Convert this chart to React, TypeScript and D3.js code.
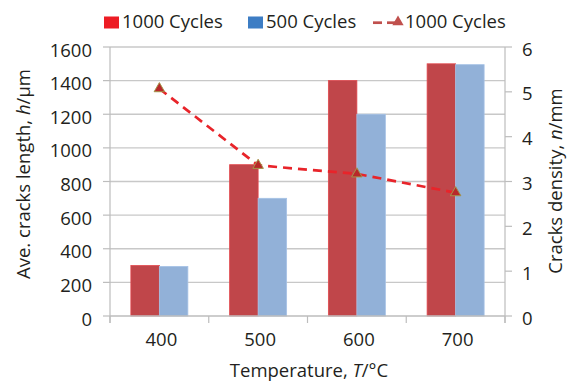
import React from "react";
import * as d3 from "d3";

const categories = ["400", "500", "600", "700"];
const cycles1000 = [300, 900, 1400, 1500];
const cycles500 = [295, 700, 1200, 1495];
const density1000 = [5.07, 3.36, 3.17, 2.75];
const leftTicks = [0, 200, 400, 600, 800, 1000, 1200, 1400, 1600];
const rightTicks = [0, 1, 2, 3, 4, 5, 6];
const seriesNames = ["1000 Cycles", "500 Cycles", "1000 Cycles"];

const W = 567;
const H = 382;
const FONT = "'Open Sans', 'Noto Sans', sans-serif";
const FS = 18.5;
const TXT = "#231f20";

export default function App() {
  const x = d3.scaleBand<string>().domain(categories).range([110, 505]).paddingInner(0).paddingOuter(0);
  const yL = d3.scaleLinear().domain([0, 1600]).range([316, 47]);
  const yR = d3.scaleLinear().domain([0, 6]).range([316, 47]);
  const groupW = 57;
  const inner = d3.scaleBand<string>().domain(["a", "b"]).range([0, groupW]).padding(0);
  const cx = (c: string) => (x(c) as number) + x.bandwidth() / 2;

  const line = d3
    .line<number>()
    .x((_, i) => cx(categories[i]))
    .y((d) => yR(d));

  const tri = d3.symbol().type(d3.symbolTriangle).size(48);
  const triLegend = d3.symbol().type(d3.symbolTriangle).size(55);

  const boundaries = [...categories.map((c) => x(c) as number), 505];

  return (
    <svg
      width={W}
      height={H}
      style={{ position: "absolute", left: 0, top: 0, background: "#fff" }}
      fontFamily={FONT}
    >
      <rect x={0} y={0} width={W} height={H} fill="#fff" />
      {leftTicks.slice(1).map((t) => (
        <line key={"g" + t} x1={110} x2={505} y1={yL(t)} y2={yL(t)} stroke="#c8c8c8" strokeWidth={1.4} />
      ))}
      {categories.map((c, i) => {
        const x0 = cx(c) - groupW / 2;
        return (
          <g key={"b" + c}>
            <rect
              x={x0 + (inner("a") as number)}
              y={yL(cycles1000[i])}
              width={inner.bandwidth()}
              height={yL(0) - yL(cycles1000[i])}
              fill="#c0464a"
              stroke="#e2474c"
              strokeWidth={0.8}
            />
            <rect
              x={x0 + (inner("b") as number)}
              y={yL(cycles500[i])}
              width={inner.bandwidth()}
              height={yL(0) - yL(cycles500[i])}
              fill="#92b1d8"
              stroke="#a6c2e6"
              strokeWidth={0.8}
            />
          </g>
        );
      })}
      <line x1={110} x2={505} y1={316} y2={316} stroke="#bdbdbd" strokeWidth={1.4} />
      <line x1={110} x2={110} y1={47} y2={323} stroke="#bdbdbd" strokeWidth={1.2} />
      <line x1={505} x2={505} y1={47} y2={323} stroke="#bdbdbd" strokeWidth={1.2} />
      {boundaries.map((b, i) => (
        <line key={"xt" + i} x1={b} x2={b} y1={316} y2={323} stroke="#bdbdbd" strokeWidth={1.2} />
      ))}
      {leftTicks.map((t) => (
        <line key={"lt" + t} x1={103} x2={110} y1={yL(t)} y2={yL(t)} stroke="#bdbdbd" strokeWidth={1.2} />
      ))}
      {rightTicks.map((t) => (
        <line key={"rt" + t} x1={505} x2={512} y1={yR(t)} y2={yR(t)} stroke="#bdbdbd" strokeWidth={1.2} />
      ))}
      {leftTicks.map((t) => (
        <text key={"ll" + t} x={92} y={yL(t) + 2} fontSize={FS} fill={TXT} textAnchor="end" dominantBaseline="central">
          {t}
        </text>
      ))}
      {rightTicks.map((t) => (
        <text key={"rl" + t} x={522} y={yR(t) + 1} fontSize={FS} fill={TXT} textAnchor="start" dominantBaseline="central">
          {t}
        </text>
      ))}
      {categories.map((c) => (
        <text key={"xl" + c} x={cx(c) + 2} y={346} fontSize={FS} fill={TXT} textAnchor="middle">
          {c}
        </text>
      ))}
      <path
        d={line(density1000) || ""}
        fill="none"
        stroke="#e8242a"
        strokeWidth={2.7}
        strokeDasharray="9,6"
      />
      {density1000.map((d, i) => (
        <path
          key={"m" + i}
          d={tri() || ""}
          transform={`translate(${cx(categories[i])},${yR(d)})`}
          fill="#b8282a"
          stroke="#a3954a"
          strokeWidth={1}
        />
      ))}
      <text x={309} y={376.5} fontSize={FS} fill={TXT} textAnchor="middle">
        Temperature, <tspan fontStyle="italic">T</tspan>/°C
      </text>
      <text transform="translate(30,174) rotate(-90)" fontSize={FS} fill={TXT} textAnchor="middle">
        Ave. cracks length, <tspan fontStyle="italic">h</tspan>/µm
      </text>
      <text transform="translate(562,181) rotate(-90)" fontSize={FS} fill={TXT} textAnchor="middle">
        Cracks density, <tspan fontStyle="italic">n</tspan>/mm
      </text>
      <rect x={104} y={16.5} width={15} height={12} fill="#ed1c24" />
      <text x={122} y={28.3} fontSize={FS} fill={TXT}>
        {seriesNames[0]}
      </text>
      <rect x={248} y={16.5} width={15} height={12} fill="#3d7dc4" />
      <text x={266} y={28.3} fontSize={FS} fill={TXT}>
        {seriesNames[1]}
      </text>
      <line x1={373} x2={382} y1={22.7} y2={22.7} stroke="#c0504d" strokeWidth={2.7} />
      <line x1={387} x2={396} y1={22.7} y2={22.7} stroke="#c0504d" strokeWidth={2.7} />
      <path d={triLegend() || ""} transform="translate(398,22)" fill="#c0504d" />
      <text x={405} y={28.3} fontSize={FS} fill={TXT}>
        {seriesNames[2]}
      </text>
    </svg>
  );
}
